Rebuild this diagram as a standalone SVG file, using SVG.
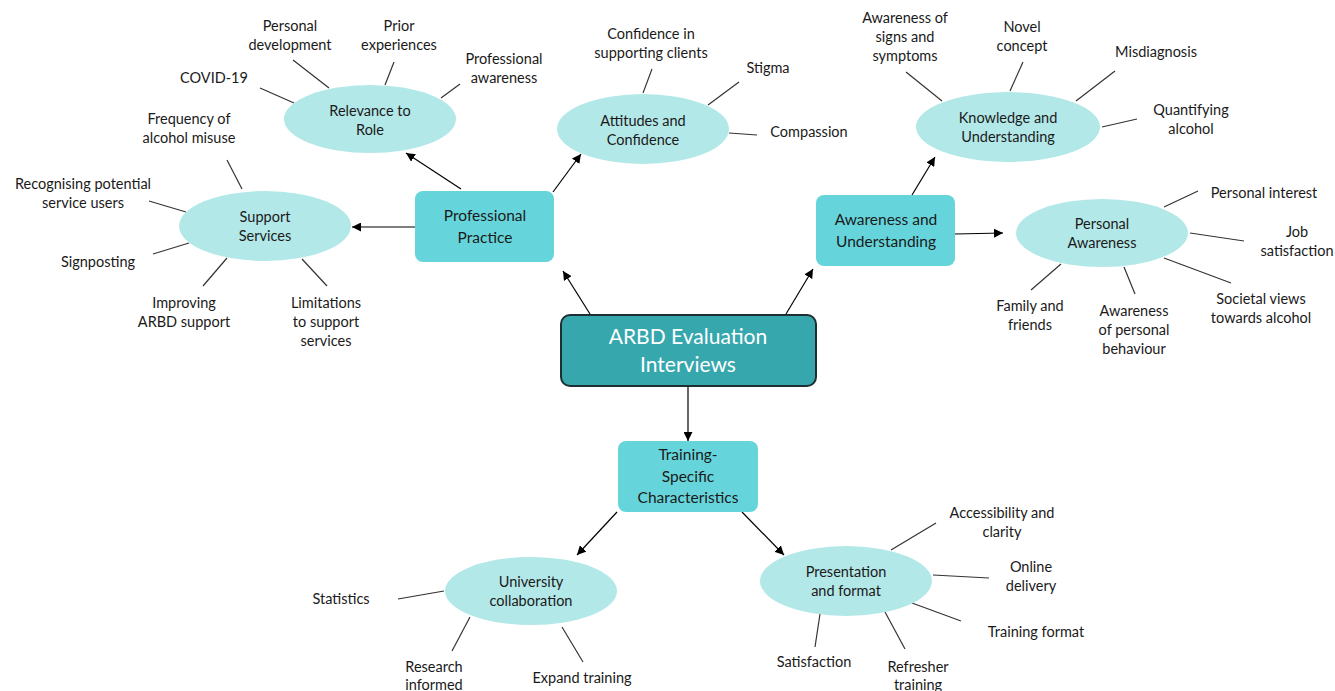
<svg xmlns="http://www.w3.org/2000/svg" width="1335" height="691" viewBox="0 0 1335 691">
<defs>
<marker id="ah" viewBox="0 0 10 10" refX="10" refY="5" markerWidth="9" markerHeight="9" markerUnits="userSpaceOnUse" orient="auto">
<path d="M0,0 L10,5 L0,10 z" fill="#000"/>
</marker>
<style>
text{font-family:Lato,"Liberation Sans",sans-serif;fill:#1a1a1a;text-anchor:middle}
.leaf{font-size:14.5px}
.el{fill:#b3e8e8}
.elt{font-size:14.5px}
.box{fill:#66d5db}
.bxt{font-size:15.5px}
.main{fill:#37a7ae;stroke:#1d2f33;stroke-width:2}
.mt{font-size:21px;fill:#fff}
.ln{stroke:#333;stroke-width:1.2;fill:none}
.ar{stroke:#000;stroke-width:1.2;fill:none;marker-end:url(#ah)}
</style>
</defs>
<rect width="1335" height="691" fill="#fff"/>
<g id="connectors">
<line class="ar" x1="688" y1="386" x2="688" y2="441"/>
<line class="ar" x1="590" y1="314" x2="563" y2="271"/>
<line class="ar" x1="786" y1="314" x2="813" y2="269"/>
<line class="ar" x1="415" y1="227" x2="352" y2="227"/>
<line class="ar" x1="461" y1="189" x2="406" y2="153"/>
<line class="ar" x1="553" y1="192" x2="581" y2="154"/>
<line class="ar" x1="912" y1="195" x2="935" y2="157"/>
<line class="ar" x1="955" y1="234" x2="1003" y2="233"/>
<line class="ar" x1="617" y1="512" x2="577" y2="555"/>
<line class="ar" x1="742" y1="512" x2="784" y2="555"/>
<line class="ln" x1="227" y1="160" x2="242" y2="189"/>
<line class="ln" x1="149" y1="201" x2="186" y2="212"/>
<line class="ln" x1="153" y1="254" x2="189" y2="243"/>
<line class="ln" x1="203" y1="286" x2="227" y2="258"/>
<line class="ln" x1="302" y1="259" x2="327" y2="286"/>
<line class="ln" x1="260" y1="88" x2="294" y2="103"/>
<line class="ln" x1="293" y1="60" x2="329" y2="88"/>
<line class="ln" x1="394" y1="62" x2="385" y2="85"/>
<line class="ln" x1="460" y1="84" x2="441" y2="98"/>
<line class="ln" x1="652" y1="69" x2="643" y2="93"/>
<line class="ln" x1="739" y1="82" x2="708" y2="105"/>
<line class="ln" x1="729" y1="133" x2="757" y2="135"/>
<line class="ln" x1="906" y1="72" x2="942" y2="101"/>
<line class="ln" x1="1023" y1="62" x2="1010" y2="91"/>
<line class="ln" x1="1115" y1="71" x2="1076" y2="101"/>
<line class="ln" x1="1137" y1="119" x2="1102" y2="127"/>
<line class="ln" x1="1198" y1="191" x2="1164" y2="207"/>
<line class="ln" x1="1190" y1="233" x2="1244" y2="241"/>
<line class="ln" x1="1164" y1="258" x2="1231" y2="283"/>
<line class="ln" x1="1124" y1="267" x2="1135" y2="294"/>
<line class="ln" x1="1031" y1="290" x2="1061" y2="264"/>
<line class="ln" x1="398" y1="599" x2="444" y2="591"/>
<line class="ln" x1="452" y1="651" x2="470" y2="617"/>
<line class="ln" x1="562" y1="627" x2="583" y2="662"/>
<line class="ln" x1="936" y1="523" x2="891" y2="550"/>
<line class="ln" x1="933" y1="575" x2="989" y2="578"/>
<line class="ln" x1="912" y1="603" x2="961" y2="621"/>
<line class="ln" x1="820" y1="614" x2="815" y2="647"/>
<line class="ln" x1="885" y1="612" x2="905" y2="649"/>
</g>
<g id="central">
<rect class="main" x="561" y="315" width="255" height="71" rx="9"/>
<text class="mt" x="688" y="344">ARBD Evaluation</text>
<text class="mt" x="688" y="372">Interviews</text>
</g>
<g id="professional-practice">
<rect class="box" x="415" y="191" width="139" height="71" rx="8"/>
<text class="bxt" x="485" y="221">Professional</text>
<text class="bxt" x="485" y="243">Practice</text>
</g>
<g id="awareness-understanding">
<rect class="box" x="816" y="195" width="139" height="71" rx="8"/>
<text class="bxt" x="886" y="225">Awareness and</text>
<text class="bxt" x="886" y="247">Understanding</text>
</g>
<g id="training-specific">
<rect class="box" x="618" y="441" width="140" height="71" rx="8"/>
<text class="bxt" x="688" y="460">Training-</text>
<text class="bxt" x="688" y="482">Specific</text>
<text class="bxt" x="688" y="503">Characteristics</text>
</g>
<g id="relevance-to-role">
<ellipse class="el" cx="370" cy="119" rx="86" ry="34"/>
<text class="elt" x="370" y="116">Relevance to</text>
<text class="elt" x="370" y="135">Role</text>
</g>
<g id="support-services">
<ellipse class="el" cx="265" cy="226" rx="86" ry="35"/>
<text class="elt" x="265" y="222">Support</text>
<text class="elt" x="265" y="241">Services</text>
</g>
<g id="attitudes-confidence">
<ellipse class="el" cx="643" cy="129" rx="86" ry="35"/>
<text class="elt" x="643" y="126">Attitudes and</text>
<text class="elt" x="643" y="145">Confidence</text>
</g>
<g id="knowledge-understanding">
<ellipse class="el" cx="1008" cy="127" rx="92" ry="35"/>
<text class="elt" x="1008" y="123">Knowledge and</text>
<text class="elt" x="1008" y="142">Understanding</text>
</g>
<g id="personal-awareness">
<ellipse class="el" cx="1102" cy="233" rx="86" ry="34"/>
<text class="elt" x="1102" y="229">Personal</text>
<text class="elt" x="1102" y="248">Awareness</text>
</g>
<g id="university-collaboration">
<ellipse class="el" cx="531" cy="591" rx="86" ry="34"/>
<text class="elt" x="531" y="587">University</text>
<text class="elt" x="531" y="606">collaboration</text>
</g>
<g id="presentation-format">
<ellipse class="el" cx="846" cy="581" rx="86" ry="35"/>
<text class="elt" x="846" y="577">Presentation</text>
<text class="elt" x="846" y="596">and format</text>
</g>
<g id="leaves">
<text class="leaf" x="189" y="124">Frequency of</text>
<text class="leaf" x="189" y="143">alcohol misuse</text>
<text class="leaf" x="83" y="189">Recognising potential</text>
<text class="leaf" x="83" y="208">service users</text>
<text class="leaf" x="98" y="267">Signposting</text>
<text class="leaf" x="184" y="308">Improving</text>
<text class="leaf" x="184" y="327">ARBD support</text>
<text class="leaf" x="326" y="308">Limitations</text>
<text class="leaf" x="326" y="327">to support</text>
<text class="leaf" x="326" y="346">services</text>
<text class="leaf" x="214" y="83">COVID-19</text>
<text class="leaf" x="290" y="31">Personal</text>
<text class="leaf" x="290" y="50">development</text>
<text class="leaf" x="399" y="31">Prior</text>
<text class="leaf" x="399" y="50">experiences</text>
<text class="leaf" x="504" y="64">Professional</text>
<text class="leaf" x="504" y="83">awareness</text>
<text class="leaf" x="651" y="39">Confidence in</text>
<text class="leaf" x="651" y="58">supporting clients</text>
<text class="leaf" x="768" y="73">Stigma</text>
<text class="leaf" x="809" y="137">Compassion</text>
<text class="leaf" x="905" y="23">Awareness of</text>
<text class="leaf" x="905" y="42">signs and</text>
<text class="leaf" x="905" y="61">symptoms</text>
<text class="leaf" x="1022" y="32">Novel</text>
<text class="leaf" x="1022" y="51">concept</text>
<text class="leaf" x="1156" y="57">Misdiagnosis</text>
<text class="leaf" x="1191" y="115">Quantifying</text>
<text class="leaf" x="1191" y="134">alcohol</text>
<text class="leaf" x="1264" y="198">Personal interest</text>
<text class="leaf" x="1297" y="237">Job</text>
<text class="leaf" x="1297" y="256">satisfaction</text>
<text class="leaf" x="1261" y="304">Societal views</text>
<text class="leaf" x="1261" y="323">towards alcohol</text>
<text class="leaf" x="1134" y="316">Awareness</text>
<text class="leaf" x="1134" y="335">of personal</text>
<text class="leaf" x="1134" y="354">behaviour</text>
<text class="leaf" x="1030" y="311">Family and</text>
<text class="leaf" x="1030" y="330">friends</text>
<text class="leaf" x="341" y="604">Statistics</text>
<text class="leaf" x="434" y="672">Research</text>
<text class="leaf" x="434" y="690">informed</text>
<text class="leaf" x="582" y="683">Expand training</text>
<text class="leaf" x="1002" y="518">Accessibility and</text>
<text class="leaf" x="1002" y="537">clarity</text>
<text class="leaf" x="1031" y="572">Online</text>
<text class="leaf" x="1031" y="591">delivery</text>
<text class="leaf" x="1036" y="637">Training format</text>
<text class="leaf" x="814" y="667">Satisfaction</text>
<text class="leaf" x="918" y="672">Refresher</text>
<text class="leaf" x="918" y="690">training</text>
</g>
</svg>
